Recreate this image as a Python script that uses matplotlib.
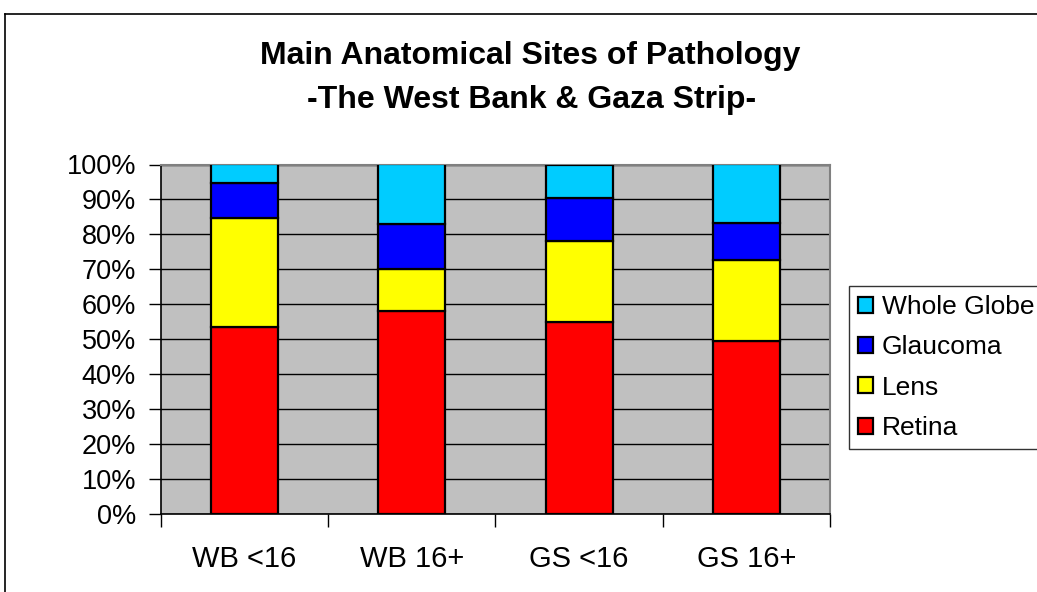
import matplotlib
matplotlib.use("Agg")
import matplotlib.pyplot as plt
from matplotlib.lines import Line2D
from matplotlib.patches import Patch
import numpy as np

plt.rcParams['font.family'] = ['Liberation Sans', 'DejaVu Sans']

categories = ["WB <16", "WB 16+", "GS <16", "GS 16+"]
retina = [53.4, 58.0, 54.8, 49.4]
lens = [31.2, 12.1, 23.3, 23.2]
glaucoma = [10.0, 12.9, 12.3, 10.7]
whole_globe = [5.4, 17.0, 9.6, 16.7]
yticks = [0, 10, 20, 30, 40, 50, 60, 70, 80, 90, 100]

series = [("Retina", retina, "#FF0000"),
          ("Lens", lens, "#FFFF00"),
          ("Glaucoma", glaucoma, "#0000FF"),
          ("Whole Globe", whole_globe, "#00CCFF")]

fig = plt.figure(figsize=(10.37, 5.92), dpi=100)
ax = fig.add_axes([161/1037, 1-514/592, (830-161)/1037, (514-164.5)/592])
ax.set_facecolor("#C0C0C0")

x = np.arange(len(categories))
bottom = np.zeros(len(categories))
for name, vals, col in series:
    v = np.array(vals)
    ax.bar(x, v, bottom=bottom, width=0.4, color=col, edgecolor="black",
           linewidth=1.6, zorder=3, label=name)
    bottom += v

ax.set_xlim(-0.5, len(categories) - 0.5)
ax.set_ylim(0, 100)
ax.set_yticks(yticks)
ax.set_yticklabels([f"{t}%" for t in yticks], fontsize=19.5)
ax.yaxis.grid(True, color="black", linewidth=1.0, zorder=1)
ax.set_axisbelow(True)

ax.set_xticks(x)
ax.set_xticklabels(categories, fontsize=21)
ax.set_xticks(np.arange(-0.5, len(categories)), minor=True)
ax.tick_params(axis='x', which='major', length=0, pad=22)
ax.tick_params(axis='x', which='minor', length=9, width=1, color="black", direction='out')
ax.tick_params(axis='y', length=9, width=1, color="black", direction='out', pad=9)

for s in ["top", "right"]:
    ax.spines[s].set_color("#808080")
    ax.spines[s].set_linewidth(1.5)
for s in ["left", "bottom"]:
    ax.spines[s].set_color("black")
    ax.spines[s].set_linewidth(1.2)

fig.text(530/1037, 1-56/592, "Main Anatomical Sites of Pathology", ha="center", va="center",
         fontsize=23, fontweight="bold")
fig.text(532/1037, 1-100/592, "-The West Bank & Gaza Strip-", ha="center", va="center",
         fontsize=23, fontweight="bold")

handles = [Patch(facecolor=c, edgecolor="black", linewidth=1.6) for _, _, c in series][::-1]
labels = [n for n, _, _ in series][::-1]
leg = fig.legend(handles, labels, loc="upper left", bbox_to_anchor=(849/1037, 1-285.7/592),
                 borderaxespad=0, fontsize=19, frameon=True, fancybox=False,
                 handlelength=0.55, handleheight=0.55, handletextpad=0.35,
                 labelspacing=0.62, borderpad=0.35)
leg.get_frame().set_edgecolor("black")
leg.get_frame().set_linewidth(1.0)

fig.add_artist(Line2D([5/1037, 5/1037], [0, 1-14/592], color="black", linewidth=1.2))
fig.add_artist(Line2D([5/1037, 1], [1-14/592, 1-14/592], color="black", linewidth=1.2))

fig.savefig("out.png", dpi=100)
